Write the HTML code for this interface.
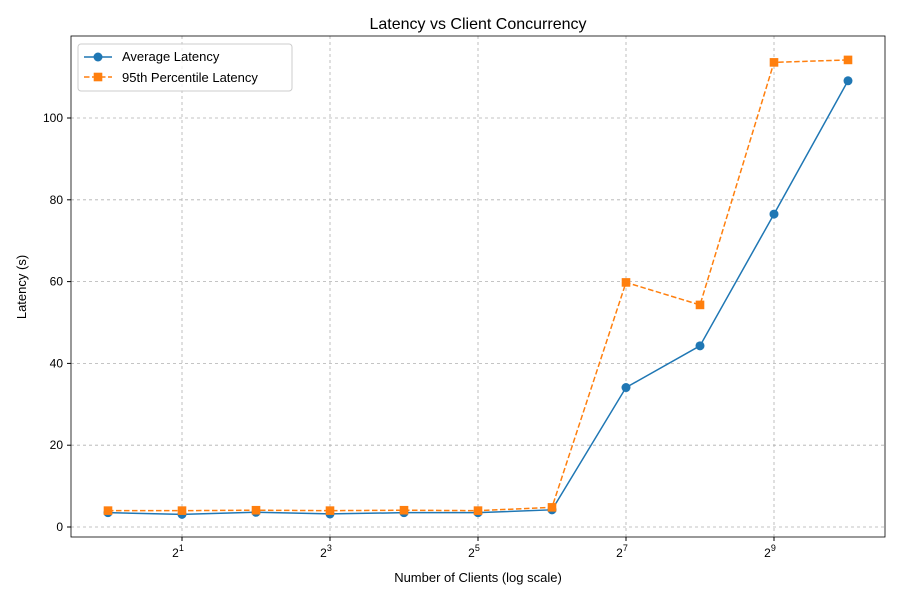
<!DOCTYPE html>
<html><head><meta charset="utf-8"><style>
body{margin:0;background:#fff;font-family:"Liberation Sans","DejaVu Sans",sans-serif;}
</style></head><body>
<svg id="chart" width="900" height="600" xmlns="http://www.w3.org/2000/svg"></svg>
<script>
const clients=[1,2,4,8,16,32,64,128,256,512,1024];
const avgLatency=[3.5,3.1,3.6,3.2,3.5,3.5,4.2,34.1,44.3,76.5,109.1];
const p95Latency=[4.0,4.0,4.1,4.0,4.1,4.0,4.8,59.8,54.3,113.6,114.2];
const xTickExps=[1,3,5,7,9];
const yTicks=[0,20,40,60,80,100];
const NS="http://www.w3.org/2000/svg";
const svg=document.getElementById('chart');
const L=71,R=885,T=36,B=537;
const x=v=>108+Math.log2(v)*74;
const y=v=>527-v*4.09;
function el(tag,attrs,parent){const e=document.createElementNS(NS,tag);for(const k in attrs)e.setAttribute(k,attrs[k]);(parent||svg).appendChild(e);return e;}
// grid
const grid=el('g',{});


xTickExps.forEach(p=>{const X=x(Math.pow(2,p));el('line',{x1:X,x2:X,y1:T,y2:B,stroke:'#b0b0b0','stroke-dasharray':'3,3','stroke-width':0.8},grid);});
yTicks.forEach(v=>{const Y=y(v);el('line',{x1:L,x2:R,y1:Y,y2:Y,stroke:'#b0b0b0','stroke-dasharray':'3,3','stroke-width':0.8},grid);});
// axes frame
const frame=el('rect',{x:L,y:T,width:R-L,height:B-T,fill:'none',stroke:'#000','stroke-width':0.8});


// x ticks
xTickExps.forEach(p=>{const X=x(Math.pow(2,p));el('line',{x1:X,x2:X,y1:B,y2:B+4,stroke:'#000'});
const t=el('text',{x:X-4,y:B+20,'font-size':12,'text-anchor':'middle'});


t.innerHTML='2<tspan dy="-6" font-size="9">'+p+'</tspan>';});
yTicks.forEach(v=>{const Y=y(v);el('line',{x1:L-4,x2:L,y1:Y,y2:Y,stroke:'#000'});
const t=el('text',{x:L-8,y:Y+4,'font-size':12,'text-anchor':'end'});


t.textContent=v;});
// titles
let t=el('text',{x:478,y:29,'font-size':16,'text-anchor':'middle'});t.textContent='Latency vs Client Concurrency';


t=el('text',{x:478,y:582,'font-size':13,'text-anchor':'middle'});t.textContent='Number of Clients (log scale)';


t=el('text',{x:26,y:287,'font-size':13,'text-anchor':'middle',transform:'rotate(-90 26 287)'});t.textContent='Latency (s)';


// series
function series(vals,color,dash,marker,name){
const g=el('g',{});


el('polyline',{points:clients.map((c,i)=>x(c)+','+y(vals[i])).join(' '),fill:'none',stroke:color,'stroke-width':1.5,'stroke-dasharray':dash},g);
clients.forEach((c,i)=>{let m;
if(marker==='circle')m=el('circle',{cx:x(c),cy:y(vals[i]),r:4.5,fill:color},g);
else m=el('rect',{x:x(c)-4.3,y:y(vals[i])-4.3,width:8.6,height:8.6,fill:color},g);

});}
series(avgLatency,'#1f77b4','none','circle','average-latency-series');
series(p95Latency,'#ff7f0e','5.5,2.5','square','p95-latency-series');
// legend
const lg=el('g',{});


el('rect',{x:78,y:44,width:214,height:47,rx:3,fill:'#fff','fill-opacity':0.8,stroke:'#ccc'},lg);
el('line',{x1:84,x2:112,y1:57,y2:57,stroke:'#1f77b4','stroke-width':1.5},lg);
el('circle',{cx:98,cy:57,r:4.5,fill:'#1f77b4'},lg);
let lt=el('text',{x:122,y:61,'font-size':13},lg);lt.textContent='Average Latency';


el('line',{x1:84,x2:112,y1:77,y2:77,stroke:'#ff7f0e','stroke-width':1.5,'stroke-dasharray':'5.5,2.5'},lg);
el('rect',{x:93.7,y:72.7,width:8.6,height:8.6,fill:'#ff7f0e'},lg);
lt=el('text',{x:122,y:82,'font-size':13},lg);lt.textContent='95th Percentile Latency';


</script>
</body></html>
